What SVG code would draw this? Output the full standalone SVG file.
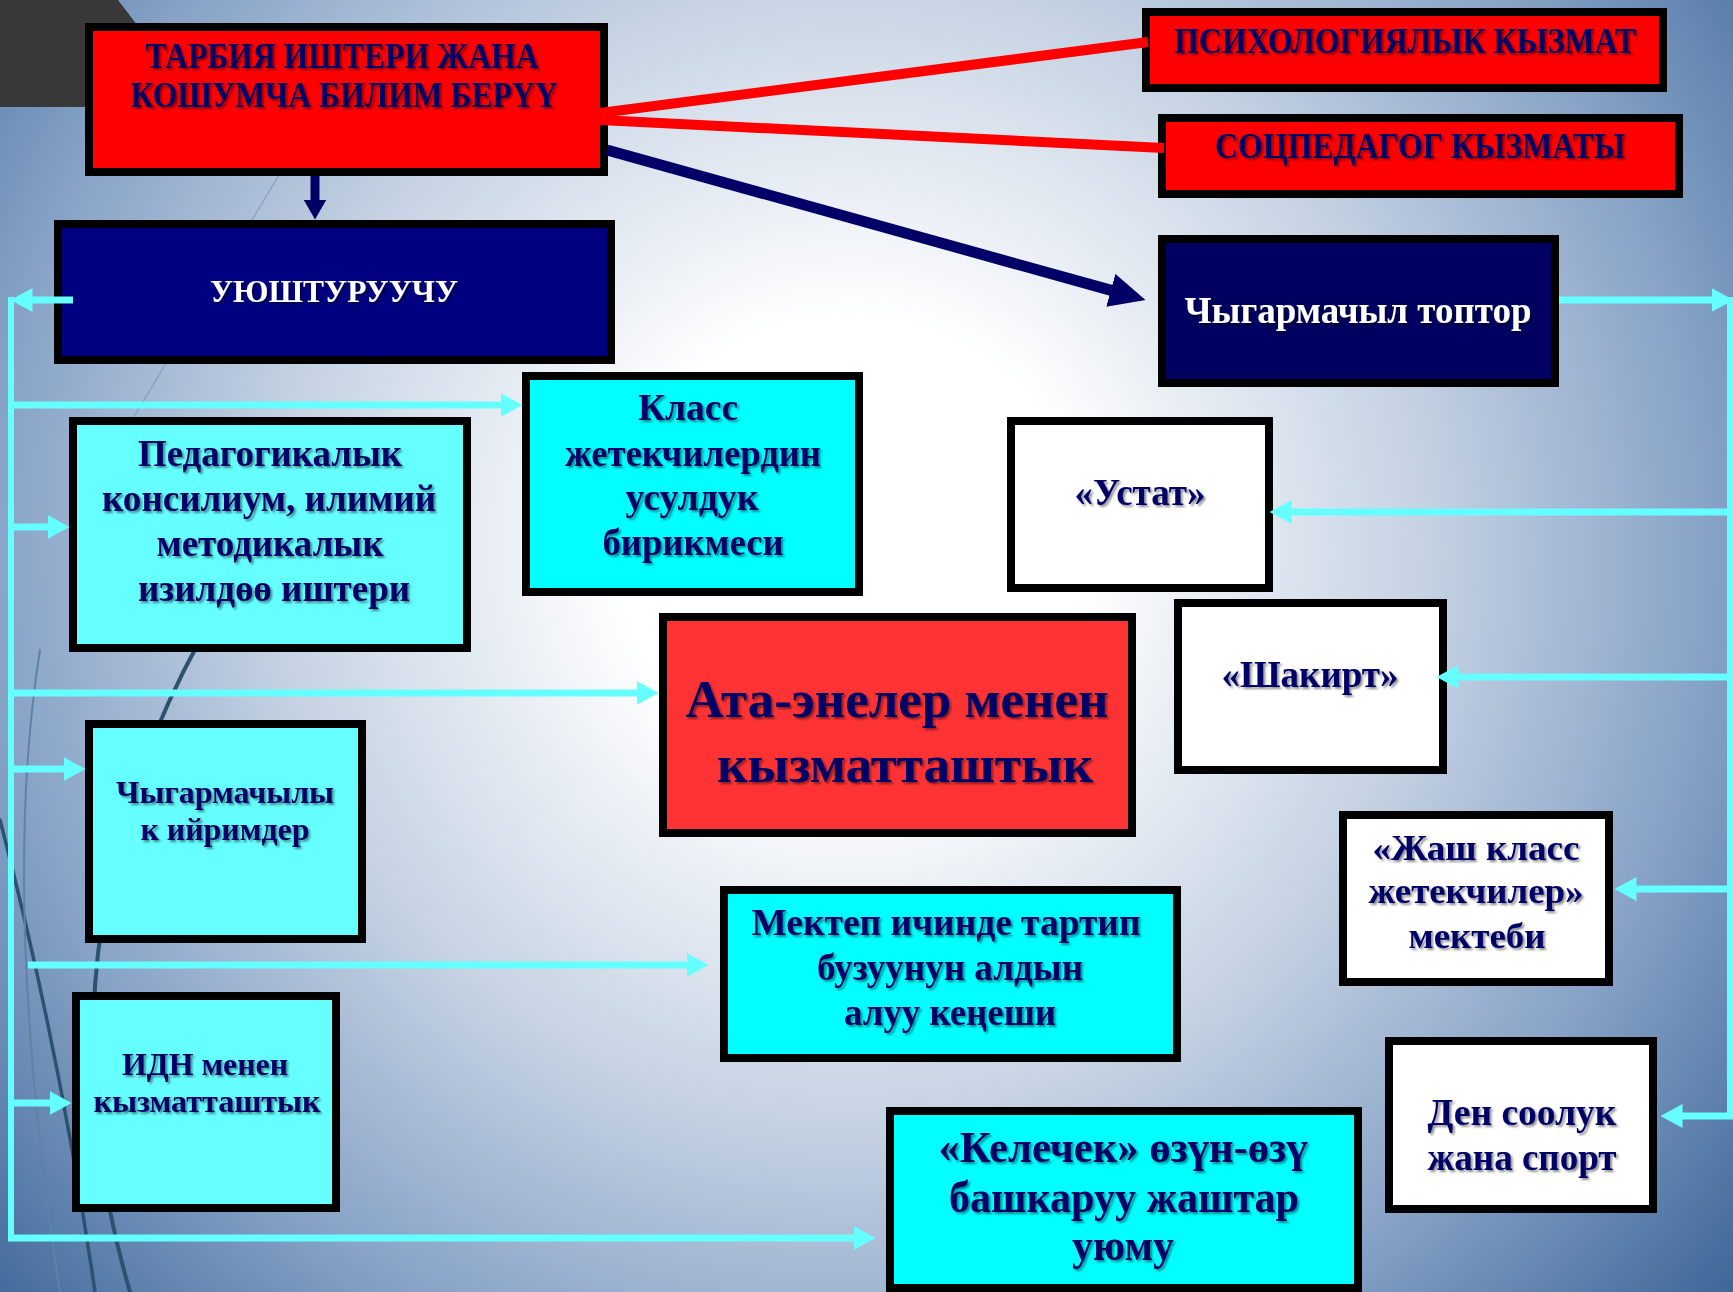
<svg xmlns="http://www.w3.org/2000/svg" width="1733" height="1292" viewBox="0 0 1733 1292">
<defs>
<radialGradient id="bg" gradientUnits="userSpaceOnUse" cx="850" cy="550" r="1150">
<stop offset="0" stop-color="#ffffff"/>
<stop offset="0.2" stop-color="#ffffff"/>
<stop offset="0.5" stop-color="#c5d2e3"/>
<stop offset="0.75" stop-color="#86a2c6"/>
<stop offset="1" stop-color="#3f6799"/>
</radialGradient>
<filter id="sh" x="-10%" y="-30%" width="120%" height="160%">
<feDropShadow dx="2" dy="2" stdDeviation="1.2" flood-color="#000" flood-opacity="0.45"/>
</filter>
<marker id="ac" markerUnits="userSpaceOnUse" markerWidth="22" markerHeight="24" refX="0.5" refY="12" orient="auto" viewBox="0 0 22 24">
<path d="M0,0 L22,12 L0,24 z" fill="#66FFFF"/>
</marker>
<marker id="an" markerUnits="userSpaceOnUse" markerWidth="20" markerHeight="23" refX="0.5" refY="11.5" orient="auto" viewBox="0 0 20 23">
<path d="M0,0 L20,11.5 L0,23 z" fill="#000066"/>
</marker>
<marker id="an2" markerUnits="userSpaceOnUse" markerWidth="36" markerHeight="34" refX="0.5" refY="17" orient="auto" viewBox="0 0 36 34">
<path d="M0,0 L36,17 L0,34 z" fill="#000066"/>
</marker>
</defs>
<style>
.box{stroke:#000;stroke-width:8}
.red{fill:#FF0000}
.red2{fill:#FF3333}
.navy{fill:#000080}
.navy2{fill:#000060}
.lc{fill:#66FFFF}
.c{fill:#00FFFF}
.wh{fill:#FFFFFF}
.t{font-family:"Liberation Serif","Times New Roman",serif;font-weight:bold;fill:#000066;text-anchor:middle;filter:url(#sh)}
.tw{fill:#FFFFFF}
.cy{stroke:#66FFFF;stroke-width:7;fill:none}
.bus{stroke:#66FFFF;stroke-width:6;fill:none}
.rl{stroke:#FF0000;stroke-width:10;fill:none}
.nl{stroke:#000066;stroke-width:11;fill:none}
.deco{fill:none;stroke:#2c5270;stroke-linecap:round}
</style>

<rect x="0" y="0" width="1733" height="1292" fill="url(#bg)"/>
<g id="decoration">
<polygon points="0,0 118,0 200,107 0,107" fill="#383838"/>
<path class="deco" d="M300 140 L114 450" style="stroke:#8ea4bf" stroke-width="1.5"/>
<path class="deco" d="M200 640 Q30 950 130 1292" stroke-width="4"/>
<path class="deco" d="M0 820 Q60 1050 95 1292" stroke-width="3.5"/>
<path class="deco" d="M40 650 Q0 900 60 1292" style="stroke:#5f82a6" stroke-width="2"/>
</g>

<g id="node-tarbiya">
<rect class="box red" x="89" y="27" width="515" height="145"/>
<text class="t" font-size="35" x="342" y="68" textLength="393" lengthAdjust="spacingAndGlyphs">ТАРБИЯ ИШТЕРИ ЖАНА</text>
<text class="t" font-size="35" x="344" y="107" textLength="427" lengthAdjust="spacingAndGlyphs">КОШУМЧА БИЛИМ БЕРҮҮ</text>
</g>
<g id="node-psih">
<rect class="box red" x="1146" y="12" width="517" height="76"/>
<text class="t" font-size="35" x="1405" y="53" textLength="462" lengthAdjust="spacingAndGlyphs">ПСИХОЛОГИЯЛЫК КЫЗМАТ</text>
</g>
<g id="node-socped">
<rect class="box red" x="1162" y="118" width="517" height="76"/>
<text class="t" font-size="35" x="1420" y="158" textLength="410" lengthAdjust="spacingAndGlyphs">СОЦПЕДАГОГ КЫЗМАТЫ</text>
</g>
<g id="node-uyushturuuchu">
<rect class="box navy" x="58" y="224" width="553" height="136"/>
<text class="t tw" font-size="32" x="334" y="302" textLength="248" lengthAdjust="spacingAndGlyphs">УЮШТУРУУЧУ</text>
</g>
<g id="node-chygarmachyl-toptor">
<rect class="box navy2" x="1162" y="239" width="393" height="144"/>
<text class="t tw" font-size="38" x="1358" y="323" textLength="347" lengthAdjust="spacingAndGlyphs">Чыгармачыл топтор</text>
</g>
<g id="node-pedagogikalyk">
<rect class="box lc" x="73" y="421" width="394" height="227"/>
<text class="t" font-size="37" x="270" y="466" textLength="264" lengthAdjust="spacingAndGlyphs">Педагогикалык</text>
<text class="t" font-size="37" x="269" y="511" textLength="334" lengthAdjust="spacingAndGlyphs">консилиум, илимий</text>
<text class="t" font-size="37" x="270" y="556" textLength="227" lengthAdjust="spacingAndGlyphs">методикалык</text>
<text class="t" font-size="37" x="274" y="601" textLength="272" lengthAdjust="spacingAndGlyphs">изилдөө иштери</text>
</g>
<g id="node-klass">
<rect class="box c" x="526" y="376" width="333" height="216"/>
<text class="t" font-size="37" x="688" y="420" textLength="100" lengthAdjust="spacingAndGlyphs">Класс</text>
<text class="t" font-size="37" x="693" y="466" textLength="256" lengthAdjust="spacingAndGlyphs">жетекчилердин</text>
<text class="t" font-size="37" x="692" y="510" textLength="133" lengthAdjust="spacingAndGlyphs">усулдук</text>
<text class="t" font-size="37" x="693" y="555" textLength="181" lengthAdjust="spacingAndGlyphs">бирикмеси</text>
</g>
<g id="node-ustat">
<rect class="box wh" x="1011" y="421" width="258" height="167"/>
<text class="t" font-size="37" x="1140" y="505" textLength="131" lengthAdjust="spacingAndGlyphs">«Устат»</text>
</g>
<g id="node-ata-eneler">
<rect class="box red2" x="663" y="617" width="469" height="216"/>
<text class="t" font-size="53" x="897" y="717" textLength="423" lengthAdjust="spacingAndGlyphs">Ата-энелер менен</text>
<text class="t" font-size="53" x="905" y="782" textLength="376" lengthAdjust="spacingAndGlyphs">кызматташтык</text>
</g>
<g id="node-shakirt">
<rect class="box wh" x="1178" y="603" width="265" height="167"/>
<text class="t" font-size="37" x="1310" y="687" textLength="177" lengthAdjust="spacingAndGlyphs">«Шакирт»</text>
</g>
<g id="node-iyrimder">
<rect class="box lc" x="89" y="724" width="273" height="215"/>
<text class="t" font-size="32" x="225" y="803" textLength="218" lengthAdjust="spacingAndGlyphs">Чыгармачылы</text>
<text class="t" font-size="32" x="225" y="840" textLength="169" lengthAdjust="spacingAndGlyphs">к ийримдер</text>
</g>
<g id="node-jash-klass">
<rect class="box wh" x="1343" y="815" width="266" height="167"/>
<text class="t" font-size="36" x="1476" y="860" textLength="207" lengthAdjust="spacingAndGlyphs">«Жаш класс</text>
<text class="t" font-size="36" x="1476" y="903" textLength="215" lengthAdjust="spacingAndGlyphs">жетекчилер»</text>
<text class="t" font-size="36" x="1477" y="948" textLength="137" lengthAdjust="spacingAndGlyphs">мектеби</text>
</g>
<g id="node-mektep">
<rect class="box c" x="724" y="890" width="453" height="168"/>
<text class="t" font-size="37" x="946" y="935" textLength="389" lengthAdjust="spacingAndGlyphs">Мектеп ичинде тартип</text>
<text class="t" font-size="37" x="950" y="980" textLength="266" lengthAdjust="spacingAndGlyphs">бузуунун алдын</text>
<text class="t" font-size="37" x="950" y="1025" textLength="212" lengthAdjust="spacingAndGlyphs">алуу кеңеши</text>
</g>
<g id="node-idn">
<rect class="box lc" x="76" y="996" width="260" height="212"/>
<text class="t" font-size="32" x="205" y="1075" textLength="166" lengthAdjust="spacingAndGlyphs">ИДН менен</text>
<text class="t" font-size="32" x="207" y="1112" textLength="227" lengthAdjust="spacingAndGlyphs">кызматташтык</text>
</g>
<g id="node-den-sooluk">
<rect class="box wh" x="1389" y="1041" width="264" height="168"/>
<text class="t" font-size="37" x="1522" y="1125" textLength="189" lengthAdjust="spacingAndGlyphs">Ден соолук</text>
<text class="t" font-size="37" x="1522" y="1170" textLength="189" lengthAdjust="spacingAndGlyphs">жана спорт</text>
</g>
<g id="node-kelechek">
<rect class="box c" x="890" y="1111" width="468" height="177"/>
<text class="t" font-size="45" x="1123" y="1162" textLength="369" lengthAdjust="spacingAndGlyphs">«Келечек» өзүн-өзү</text>
<text class="t" font-size="45" x="1124" y="1212" textLength="350" lengthAdjust="spacingAndGlyphs">башкаруу жаштар</text>
<text class="t" font-size="45" x="1123" y="1260" textLength="102" lengthAdjust="spacingAndGlyphs">уюму</text>
</g>

<g id="connectors">
<line class="rl" x1="600" y1="113" x2="1148" y2="42"/>
<line class="rl" x1="600" y1="120" x2="1164" y2="148"/>
<line class="nl" x1="607" y1="150" x2="1111.3" y2="290.4" marker-end="url(#an2)"/>
<line class="nl" style="stroke-width:9" x1="315" y1="176" x2="315" y2="200" marker-end="url(#an)"/>

<path class="bus" d="M11 297 V1241"/>
<line class="cy" x1="73" y1="300" x2="32" y2="300" marker-end="url(#ac)"/>
<line class="cy" x1="11" y1="405" x2="501" y2="405" marker-end="url(#ac)"/>
<line class="cy" x1="11" y1="527" x2="48" y2="527" marker-end="url(#ac)"/>
<line class="cy" x1="11" y1="693" x2="637" y2="693" marker-end="url(#ac)"/>
<line class="cy" x1="11" y1="769" x2="64" y2="769" marker-end="url(#ac)"/>
<line class="cy" x1="28" y1="965" x2="687" y2="965" marker-end="url(#ac)"/>
<line class="cy" x1="11" y1="1103" x2="50" y2="1103" marker-end="url(#ac)"/>
<line class="cy" x1="8" y1="1238" x2="854" y2="1238" marker-end="url(#ac)"/>

<line class="cy" x1="1559" y1="300" x2="1712" y2="300" marker-end="url(#ac)"/>
<path class="bus" d="M1730 297 V1119"/>
<line class="cy" x1="1733" y1="512" x2="1291" y2="512" marker-end="url(#ac)"/>
<line class="cy" x1="1733" y1="677" x2="1458" y2="677" marker-end="url(#ac)"/>
<line class="cy" x1="1733" y1="889" x2="1636" y2="889" marker-end="url(#ac)"/>
<line class="cy" x1="1733" y1="1116" x2="1682" y2="1116" marker-end="url(#ac)"/>
</g>
</svg>
